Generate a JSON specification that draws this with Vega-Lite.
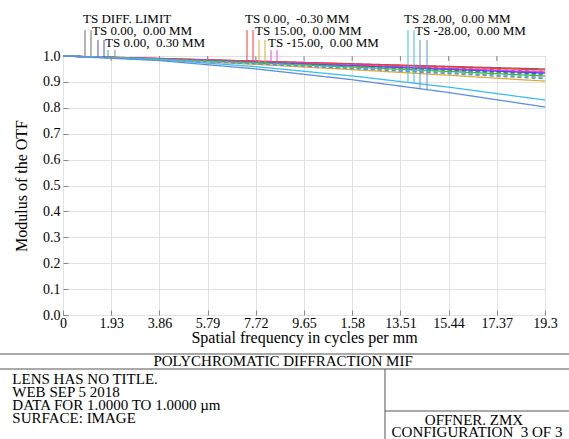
{
  "$schema": "https://vega.github.io/schema/vega-lite/v6.json",
  "width": 482,
  "height": 259,
  "autosize": {"type": "none"},
  "padding": {"left": 63, "top": 56, "right": 24, "bottom": 124},
  "background": "white",
  "config": {
    "view": {"stroke": "#8a8a8a", "strokeWidth": 1},
    "font": "Liberation Serif"
  },
  "datasets": {
    "curves": [
      {"fld": "DIFF", "t": "T", "f": 0, "m": 1}, {"fld": "DIFF", "t": "T", "f": 3.86, "m": 0.990}, {"fld": "DIFF", "t": "T", "f": 7.72, "m": 0.980}, {"fld": "DIFF", "t": "T", "f": 11.58, "m": 0.970}, {"fld": "DIFF", "t": "T", "f": 15.44, "m": 0.960}, {"fld": "DIFF", "t": "T", "f": 19.3, "m": 0.950},
      {"fld": "0.00, -0.30", "t": "T", "f": 0, "m": 1}, {"fld": "0.00, -0.30", "t": "T", "f": 3.86, "m": 0.9908}, {"fld": "0.00, -0.30", "t": "T", "f": 7.72, "m": 0.9803}, {"fld": "0.00, -0.30", "t": "T", "f": 11.58, "m": 0.9692}, {"fld": "0.00, -0.30", "t": "T", "f": 15.44, "m": 0.9578}, {"fld": "0.00, -0.30", "t": "T", "f": 19.3, "m": 0.946},
      {"fld": "0.00, -0.30", "t": "S", "f": 0, "m": 1}, {"fld": "0.00, -0.30", "t": "S", "f": 3.86, "m": 0.9898}, {"fld": "0.00, -0.30", "t": "S", "f": 7.72, "m": 0.9781}, {"fld": "0.00, -0.30", "t": "S", "f": 11.58, "m": 0.9658}, {"fld": "0.00, -0.30", "t": "S", "f": 15.44, "m": 0.9531}, {"fld": "0.00, -0.30", "t": "S", "f": 19.3, "m": 0.940},
      {"fld": "-15.00, 0.00", "t": "T", "f": 0, "m": 1}, {"fld": "-15.00, 0.00", "t": "T", "f": 3.86, "m": 0.9895}, {"fld": "-15.00, 0.00", "t": "T", "f": 7.72, "m": 0.9774}, {"fld": "-15.00, 0.00", "t": "T", "f": 11.58, "m": 0.9647}, {"fld": "-15.00, 0.00", "t": "T", "f": 15.44, "m": 0.9515}, {"fld": "-15.00, 0.00", "t": "T", "f": 19.3, "m": 0.938},
      {"fld": "-15.00, 0.00", "t": "S", "f": 0, "m": 1}, {"fld": "-15.00, 0.00", "t": "S", "f": 3.86, "m": 0.9884}, {"fld": "-15.00, 0.00", "t": "S", "f": 7.72, "m": 0.9752}, {"fld": "-15.00, 0.00", "t": "S", "f": 11.58, "m": 0.9612}, {"fld": "-15.00, 0.00", "t": "S", "f": 15.44, "m": 0.9468}, {"fld": "-15.00, 0.00", "t": "S", "f": 19.3, "m": 0.932},
      {"fld": "0.00, 0.00", "t": "T", "f": 0, "m": 1}, {"fld": "0.00, 0.00", "t": "T", "f": 3.86, "m": 0.9888}, {"fld": "0.00, 0.00", "t": "T", "f": 7.72, "m": 0.9759}, {"fld": "0.00, 0.00", "t": "T", "f": 11.58, "m": 0.9624}, {"fld": "0.00, 0.00", "t": "T", "f": 15.44, "m": 0.9484}, {"fld": "0.00, 0.00", "t": "T", "f": 19.3, "m": 0.934},
      {"fld": "0.00, 0.00", "t": "S", "f": 0, "m": 1}, {"fld": "0.00, 0.00", "t": "S", "f": 3.86, "m": 0.9881}, {"fld": "0.00, 0.00", "t": "S", "f": 7.72, "m": 0.9745}, {"fld": "0.00, 0.00", "t": "S", "f": 11.58, "m": 0.9601}, {"fld": "0.00, 0.00", "t": "S", "f": 15.44, "m": 0.9453}, {"fld": "0.00, 0.00", "t": "S", "f": 19.3, "m": 0.930},
      {"fld": "0.00, 0.30", "t": "T", "f": 0, "m": 1}, {"fld": "0.00, 0.30", "t": "T", "f": 3.86, "m": 0.9879}, {"fld": "0.00, 0.30", "t": "T", "f": 7.72, "m": 0.9731}, {"fld": "0.00, 0.30", "t": "T", "f": 11.58, "m": 0.9572}, {"fld": "0.00, 0.30", "t": "T", "f": 15.44, "m": 0.9404}, {"fld": "0.00, 0.30", "t": "T", "f": 19.3, "m": 0.923},
      {"fld": "0.00, 0.30", "t": "S", "f": 0, "m": 1}, {"fld": "0.00, 0.30", "t": "S", "f": 3.86, "m": 0.9884}, {"fld": "0.00, 0.30", "t": "S", "f": 7.72, "m": 0.9742}, {"fld": "0.00, 0.30", "t": "S", "f": 11.58, "m": 0.9589}, {"fld": "0.00, 0.30", "t": "S", "f": 15.44, "m": 0.9427}, {"fld": "0.00, 0.30", "t": "S", "f": 19.3, "m": 0.926},
      {"fld": "15.00, 0.00", "t": "S", "f": 0, "m": 1}, {"fld": "15.00, 0.00", "t": "S", "f": 3.86, "m": 0.9867}, {"fld": "15.00, 0.00", "t": "S", "f": 7.72, "m": 0.9703}, {"fld": "15.00, 0.00", "t": "S", "f": 11.58, "m": 0.9527}, {"fld": "15.00, 0.00", "t": "S", "f": 15.44, "m": 0.9342}, {"fld": "15.00, 0.00", "t": "S", "f": 19.3, "m": 0.915},
      {"fld": "15.00, 0.00", "t": "T", "f": 0, "m": 1}, {"fld": "15.00, 0.00", "t": "T", "f": 3.86, "m": 0.9859}, {"fld": "15.00, 0.00", "t": "T", "f": 7.72, "m": 0.9677}, {"fld": "15.00, 0.00", "t": "T", "f": 11.58, "m": 0.9474}, {"fld": "15.00, 0.00", "t": "T", "f": 15.44, "m": 0.9258}, {"fld": "15.00, 0.00", "t": "T", "f": 19.3, "m": 0.903},
      {"fld": "28.00, 0.00", "t": "S", "f": 0, "m": 1}, {"fld": "28.00, 0.00", "t": "S", "f": 3.86, "m": 0.9871}, {"fld": "28.00, 0.00", "t": "S", "f": 7.72, "m": 0.9714}, {"fld": "28.00, 0.00", "t": "S", "f": 11.58, "m": 0.9544}, {"fld": "28.00, 0.00", "t": "S", "f": 15.44, "m": 0.9365}, {"fld": "28.00, 0.00", "t": "S", "f": 19.3, "m": 0.918},
      {"fld": "-28.00, 0.00", "t": "S", "f": 0, "m": 1}, {"fld": "-28.00, 0.00", "t": "S", "f": 3.86, "m": 0.9862}, {"fld": "-28.00, 0.00", "t": "S", "f": 7.72, "m": 0.9693}, {"fld": "-28.00, 0.00", "t": "S", "f": 11.58, "m": 0.9511}, {"fld": "-28.00, 0.00", "t": "S", "f": 15.44, "m": 0.9319}, {"fld": "-28.00, 0.00", "t": "S", "f": 19.3, "m": 0.912},
      {"fld": "28.00, 0.00", "t": "T", "f": 0, "m": 1}, {"fld": "28.00, 0.00", "t": "T", "f": 3.86, "m": 0.9860}, {"fld": "28.00, 0.00", "t": "T", "f": 7.72, "m": 0.9589}, {"fld": "28.00, 0.00", "t": "T", "f": 11.58, "m": 0.9230}, {"fld": "28.00, 0.00", "t": "T", "f": 15.44, "m": 0.8797}, {"fld": "28.00, 0.00", "t": "T", "f": 19.3, "m": 0.830},
      {"fld": "-28.00, 0.00", "t": "T", "f": 0, "m": 1}, {"fld": "-28.00, 0.00", "t": "T", "f": 3.86, "m": 0.9824}, {"fld": "-28.00, 0.00", "t": "T", "f": 7.72, "m": 0.9502}, {"fld": "-28.00, 0.00", "t": "T", "f": 11.58, "m": 0.9084}, {"fld": "-28.00, 0.00", "t": "T", "f": 15.44, "m": 0.8590}, {"fld": "-28.00, 0.00", "t": "T", "f": 19.3, "m": 0.803}
    ],
    "markers": [
      {"fld": "DIFF", "x": 0.881, "top": 1.100, "bot": 1.0},
      {"fld": "DIFF", "x": 1.121, "top": 1.100, "bot": 1.0},
      {"fld": "0.00, 0.00", "x": 1.401, "top": 1.062, "bot": 0.997},
      {"fld": "0.00, 0.00", "x": 1.642, "top": 1.062, "bot": 0.997},
      {"fld": "0.00, 0.30", "x": 1.802, "top": 1.023, "bot": 0.995},
      {"fld": "0.00, 0.30", "x": 2.082, "top": 1.023, "bot": 0.995},
      {"fld": "0.00, -0.30", "x": 7.368, "top": 1.100, "bot": 0.978},
      {"fld": "0.00, -0.30", "x": 7.608, "top": 1.100, "bot": 0.977},
      {"fld": "15.00, 0.00", "x": 7.848, "top": 1.062, "bot": 0.975},
      {"fld": "15.00, 0.00", "x": 8.088, "top": 1.062, "bot": 0.974},
      {"fld": "-15.00, 0.00", "x": 8.329, "top": 1.023, "bot": 0.974},
      {"fld": "-15.00, 0.00", "x": 8.569, "top": 1.023, "bot": 0.973},
      {"fld": "28.00, 0.00", "x": 13.814, "top": 1.100, "bot": 0.900},
      {"fld": "28.00, 0.00", "x": 14.055, "top": 1.100, "bot": 0.895},
      {"fld": "-28.00, 0.00", "x": 14.295, "top": 1.062, "bot": 0.877},
      {"fld": "-28.00, 0.00", "x": 14.576, "top": 1.062, "bot": 0.872}
    ],
    "legendText": [
      {"label": "TS DIFF. LIMIT", "x": 0.801, "y": 1.1429},
      {"label": "TS 0.00,\u00a0 0.00 MM", "x": 1.161, "y": 1.0965},
      {"label": "TS 0.00,\u00a0 0.30 MM", "x": 1.682, "y": 1.0502},
      {"label": "TS 0.00,\u00a0 -0.30 MM", "x": 7.288, "y": 1.1429},
      {"label": "TS 15.00,\u00a0 0.00 MM", "x": 7.688, "y": 1.0965},
      {"label": "TS -15.00,\u00a0 0.00 MM", "x": 8.208, "y": 1.0502},
      {"label": "TS 28.00,\u00a0 0.00 MM", "x": 13.654, "y": 1.1429},
      {"label": "TS -28.00,\u00a0 0.00 MM", "x": 14.095, "y": 1.0965}
    ],
    "topTicks": [
      {"x": 1.93, "a": 1, "b": 0.981}, {"x": 3.86, "a": 1, "b": 0.981}, {"x": 5.79, "a": 1, "b": 0.981}, {"x": 7.72, "a": 1, "b": 0.981}, {"x": 9.65, "a": 1, "b": 0.981}, {"x": 11.58, "a": 1, "b": 0.981}, {"x": 13.51, "a": 1, "b": 0.981}, {"x": 15.44, "a": 1, "b": 0.981}, {"x": 17.37, "a": 1, "b": 0.981}
    ],
    "frame": [
      {"x": -2.53, "x2": 20.27, "y": -0.1506, "y2": -0.1506},
      {"x": -2.53, "x2": 20.27, "y": -0.2085, "y2": -0.2085},
      {"x": 12.893, "x2": 12.893, "y": -0.2085, "y2": -0.48},
      {"x": 12.893, "x2": 20.27, "y": -0.3707, "y2": -0.3707}
    ],
    "leftText": [
      {"label": "LENS HAS NO TITLE.", "x": -2.03, "y": -0.2471},
      {"label": "WEB SEP 5 2018", "x": -2.03, "y": -0.2973},
      {"label": "DATA FOR 1.0000 TO 1.0000 µm", "x": -2.03, "y": -0.3475},
      {"label": "SURFACE: IMAGE", "x": -2.03, "y": -0.3977}
    ],
    "titleText": [
      {"label": "POLYCHROMATIC DIFFRACTION MIF", "x": 3.62, "y": -0.1795}
    ],
    "centerText": [
      {"label": "OFFNER. ZMX", "x": 16.457, "y": -0.4054},
      {"label": "CONFIGURATION\u00a0 3 OF 3", "x": 16.577, "y": -0.4517}
    ]
  },
  "layer": [
    {
      "data": {"name": "curves"},
      "mark": {"type": "line", "strokeWidth": 1.3},
      "encoding": {
        "x": {
          "field": "f", "type": "quantitative",
          "scale": {"domain": [0, 19.3], "nice": false, "zero": false},
          "axis": {
            "tickCount": 20,
            "values": [0, 1.93, 3.86, 5.79, 7.72, 9.65, 11.58, 13.51, 15.44, 17.37, 19.3],
            "labelExpr": "datum.value == 11.58 ? '1.58' : (datum.value == 0 ? '0' : (datum.value == 19.3 ? '19.3' : format(datum.value, '.2f')))",
            "title": "Spatial frequency in cycles per mm",
            "grid": true, "gridColor": "#e2e2e2", "gridWidth": 1,
            "domain": false,
            "tickSize": -5, "tickColor": "#888888",
            "labelFont": "Liberation Serif", "labelFontSize": 14, "labelColor": "#000000",
            "labelPadding": 6, "labelFlush": false, "labelOverlap": false,
            "titleFont": "Liberation Serif", "titleFontSize": 16, "titleFontWeight": "normal", "titleColor": "#000000",
            "titlePadding": -1
          }
        },
        "y": {
          "field": "m", "type": "quantitative",
          "scale": {"domain": [0, 1], "nice": false, "zero": false},
          "axis": {
            "tickCount": 20,
            "values": [0, 0.1, 0.2, 0.3, 0.4, 0.5, 0.6, 0.7, 0.8, 0.9, 1],
            "labelExpr": "format(datum.value, '.1f')",
            "title": "Modulus of the OTF",
            "grid": true, "gridColor": "#e2e2e2", "gridWidth": 1,
            "domain": false,
            "tickSize": -5, "tickColor": "#888888",
            "labelFont": "Liberation Serif", "labelFontSize": 14, "labelColor": "#000000",
            "labelPadding": 8, "labelFlush": false, "labelOverlap": false,
            "titleFont": "Liberation Serif", "titleFontSize": 16, "titleFontWeight": "normal", "titleColor": "#000000",
            "titlePadding": 13
          }
        },
        "color": {
          "field": "fld", "type": "nominal", "legend": null,
          "scale": {
            "domain": ["DIFF", "0.00, 0.00", "0.00, 0.30", "0.00, -0.30", "15.00, 0.00", "-15.00, 0.00", "28.00, 0.00", "-28.00, 0.00"],
            "range": ["#6e6e6e", "#4a4aff", "#48b830", "#ff3434", "#e0aa30", "#e444e4", "#3cbcf0", "#5c8fe0"]
          }
        },
        "strokeDash": {
          "field": "t", "type": "nominal", "legend": null,
          "scale": {"domain": ["T", "S"], "range": [[1, 0], [4, 3]]}
        },
        "detail": {"field": "t"}
      }
    },
    {
      "data": {"name": "markers"},
      "mark": {"type": "rule", "strokeWidth": 1, "clip": false},
      "encoding": {
        "x": {"field": "x", "type": "quantitative"},
        "y": {"field": "top", "type": "quantitative"},
        "y2": {"field": "bot"},
        "color": {"field": "fld", "type": "nominal", "legend": null}
      }
    },
    {
      "data": {"name": "topTicks"},
      "mark": {"type": "rule", "strokeWidth": 1, "color": "#888888", "clip": false},
      "encoding": {
        "x": {"field": "x", "type": "quantitative"},
        "y": {"field": "a", "type": "quantitative"},
        "y2": {"field": "b"}
      }
    },
    {
      "data": {"name": "legendText"},
      "mark": {"type": "text", "align": "left", "baseline": "middle", "font": "Liberation Serif", "fontSize": 13, "color": "#000000", "clip": false},
      "encoding": {
        "x": {"field": "x", "type": "quantitative"},
        "y": {"field": "y", "type": "quantitative"},
        "text": {"field": "label"}
      }
    },
    {
      "data": {"name": "frame"},
      "mark": {"type": "rule", "strokeWidth": 1, "color": "#555555", "clip": false},
      "encoding": {
        "x": {"field": "x", "type": "quantitative"},
        "x2": {"field": "x2"},
        "y": {"field": "y", "type": "quantitative"},
        "y2": {"field": "y2"}
      }
    },
    {
      "data": {"name": "leftText"},
      "mark": {"type": "text", "align": "left", "baseline": "middle", "font": "Liberation Serif", "fontSize": 15, "color": "#000000", "clip": false},
      "encoding": {
        "x": {"field": "x", "type": "quantitative"},
        "y": {"field": "y", "type": "quantitative"},
        "text": {"field": "label"}
      }
    },
    {
      "data": {"name": "titleText"},
      "mark": {"type": "text", "align": "left", "baseline": "middle", "font": "Liberation Serif", "fontSize": 15, "color": "#000000", "clip": false},
      "encoding": {
        "x": {"field": "x", "type": "quantitative"},
        "y": {"field": "y", "type": "quantitative"},
        "text": {"field": "label"}
      }
    },
    {
      "data": {"name": "centerText"},
      "mark": {"type": "text", "align": "center", "baseline": "middle", "font": "Liberation Serif", "fontSize": 15, "color": "#000000", "clip": false},
      "encoding": {
        "x": {"field": "x", "type": "quantitative"},
        "y": {"field": "y", "type": "quantitative"},
        "text": {"field": "label"}
      }
    }
  ]
}
